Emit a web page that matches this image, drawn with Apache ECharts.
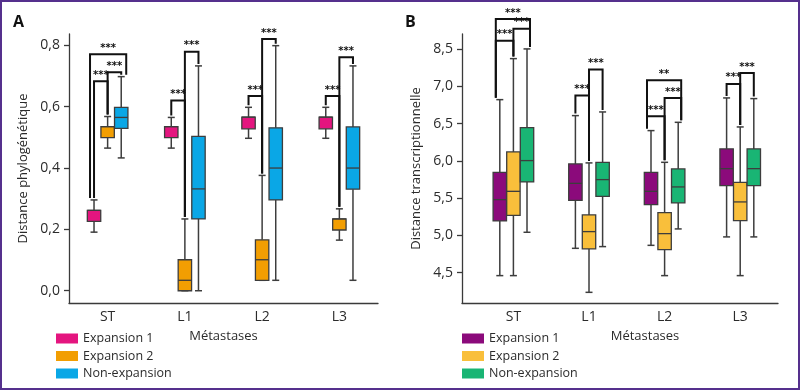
<!DOCTYPE html>
<html><head><meta charset="utf-8">
<script src="https://cdn.jsdelivr.net/npm/echarts@6/dist/echarts.min.js"></script>
<style>
html,body{margin:0;padding:0;background:#fff;}
#wrap{position:relative;width:800px;height:390px;}
#chart{width:800px;height:390px;}
#frame{position:absolute;left:0;top:0;width:800px;height:390px;box-sizing:border-box;border:2px solid #55308d;pointer-events:none;}
</style></head><body>
<div id="wrap"><div id="chart"></div><div id="frame"></div></div>
<script>
// ---------- data ----------
const categories = ['ST', 'L1', 'L2', 'L3'];
const seriesNames = ['Expansion 1', 'Expansion 2', 'Non-expansion'];

// Panel A – phylogenetic distance, each entry [min, Q1, median, Q3, max]
const phyloExpansion1 = [
  [0.191, 0.226, 0.262, 0.262, 0.296],
  [0.465, 0.499, 0.535, 0.535, 0.565],
  [0.497, 0.528, 0.566, 0.566, 0.598],
  [0.497, 0.528, 0.566, 0.566, 0.598]
];
const phyloExpansion2 = [
  [0.465, 0.499, 0.535, 0.535, 0.568],
  [0.000, 0.000, 0.034, 0.101, 0.234],
  [0.034, 0.034, 0.101, 0.166, 0.376],
  [0.165, 0.198, 0.234, 0.234, 0.267]
];
const phyloNonExpansion = [
  [0.433, 0.529, 0.565, 0.598, 0.698],
  [0.000, 0.234, 0.332, 0.503, 0.733],
  [0.034, 0.296, 0.400, 0.531, 0.799],
  [0.034, 0.331, 0.400, 0.534, 0.733]
];
// significance brackets: [category, fromSeries, toSeries, bracket height]
const phyloBrackets = [
  [0, 0, 1, 0.683], [0, 1, 2, 0.712], [0, 0, 2, 0.771],
  [1, 0, 1, 0.620], [1, 1, 2, 0.779],
  [2, 0, 1, 0.635], [2, 1, 2, 0.821],
  [3, 0, 1, 0.635], [3, 1, 2, 0.761]
];
const phyloBracketLabels = ['***', '***', '***', '***', '***', '***', '***', '***', '***'];
const phyloTicks = [0, 0.2, 0.4, 0.6, 0.8];
const phyloTickLabels = ['0,0', '0,2', '0,4', '0,6', '0,8'];

// Panel B – transcriptional distance
const transExpansion1 = [
  [4.461, 5.194, 5.480, 5.846, 6.820],
  [4.827, 5.471, 5.698, 5.958, 6.606],
  [4.867, 5.413, 5.591, 5.846, 6.405],
  [4.980, 5.668, 5.895, 6.160, 6.843]
];
const transExpansion2 = [
  [4.461, 5.269, 5.591, 6.119, 7.370],
  [4.237, 4.819, 5.051, 5.275, 5.972],
  [4.461, 4.810, 5.024, 5.306, 5.980],
  [4.461, 5.198, 5.449, 5.712, 6.454]
];
const transNonExpansion = [
  [5.042, 5.717, 6.003, 6.445, 7.500],
  [4.850, 5.524, 5.748, 5.980, 6.655],
  [5.087, 5.436, 5.650, 5.891, 6.516],
  [4.980, 5.668, 5.895, 6.160, 6.834]
];
const transBrackets = [
  [0, 0, 1, 7.611], [0, 1, 2, 7.772], [0, 0, 2, 7.902],
  [1, 0, 1, 6.874], [1, 1, 2, 7.223],
  [2, 0, 1, 6.597], [2, 1, 2, 6.843], [2, 0, 2, 7.079],
  [3, 0, 1, 7.031], [3, 1, 2, 7.178]
];
const transBracketLabels = ['***', '***', '***', '***', '***', '***', '***', '**', '***', '***'];
const transTicks = [4.5, 5.0, 5.5, 6.0, 6.5, 7.0, 7.5];
const transTickLabels = ['4,5', '5,0', '5,5', '6,0', '6,5', '7,0', '8,5'];

// ---------- styles ----------
const colorsA = ['#e4157f', '#f29e02', '#0aa7e6'];
const colorsB = ['#8b0a7b', '#f9bf3b', '#19b574'];
const FONT = 'Open Sans';
const TEXT = '#2b2b2b';
const AXIS = '#3a3a3a';
const STROKE = '#3d3d3d';
const BOX_STEP = 13.6, BOX_W = 13.4, CAP_W = 7;

function makeBoxSeries(g, sIdx, name, color, stats) {
  return {
    type: 'custom', name: name, xAxisIndex: g, yAxisIndex: g,
    itemStyle: { color: color },
    encode: { x: 0, y: [1, 2, 3, 4, 5] },
    data: stats.map(function (s, i) { return [i].concat(s); }),
    renderItem: function (params, api) {
      const cat = api.value(0);
      const mn = api.value(1), q1 = api.value(2), md = api.value(3), q3 = api.value(4), mx = api.value(5);
      const base = api.coord([cat, md]);
      const x = base[0] + (sIdx - 1) * BOX_STEP;
      const Y = function (v) { return api.coord([cat, v])[1]; };
      const ls = { stroke: STROKE, lineWidth: 1.5 };
      return { type: 'group', children: [
        { type: 'line', shape: { x1: x, y1: Y(q3), x2: x, y2: Y(mx) }, style: ls },
        { type: 'line', shape: { x1: x, y1: Y(q1), x2: x, y2: Y(mn) }, style: ls },
        { type: 'line', shape: { x1: x - CAP_W / 2, y1: Y(mx), x2: x + CAP_W / 2, y2: Y(mx) }, style: ls },
        { type: 'line', shape: { x1: x - CAP_W / 2, y1: Y(mn), x2: x + CAP_W / 2, y2: Y(mn) }, style: ls },
        { type: 'rect', shape: { x: x - BOX_W / 2, y: Y(q3), width: BOX_W, height: Y(q1) - Y(q3) },
          style: { fill: color, stroke: STROKE, lineWidth: 1.3 } },
        { type: 'line', shape: { x1: x - BOX_W / 2, y1: Y(md), x2: x + BOX_W / 2, y2: Y(md) },
          style: { stroke: STROKE, lineWidth: 1.3 } }
      ] };
    }
  };
}

function makeBracketSeries(g, brackets, labels, statsList, legMode) {
  return {
    type: 'custom', name: 'significance' + g, xAxisIndex: g, yAxisIndex: g,
    silent: true, z: 5,
    encode: { x: 0, y: 3 },
    data: brackets.map(function (b) { return b.slice(); }),
    renderItem: function (params, api) {
      const cat = api.value(0), from = api.value(1), to = api.value(2), top = api.value(3);
      const label = labels[params.dataIndex];
      const base = api.coord([cat, top]);
      const isOuter = from === 0 && to === 2;
      const hasOuter = brackets.some(function (b) { return b[0] === cat && b[1] === 0 && b[2] === 2; });
      function legX(s) {
        let off = 0;
        const apply = legMode === 'outer' ? isOuter : hasOuter;
        if (apply) {
          if (s === 0) off = -4;
          if (s === 2) off = legMode === 'outer' ? 5 : 3;
        }
        return base[0] + (s - 1) * BOX_STEP + off;
      }
      const xL = legX(from), xR = legX(to), yT = base[1];
      const yL = api.coord([cat, statsList[from][cat][4]])[1] - 2;
      const yR = api.coord([cat, statsList[to][cat][4]])[1] - 2;
      return { type: 'group', children: [
        { type: 'polyline', shape: { points: [[xL, yL], [xL, yT], [xR, yT], [xR, yR]] },
          style: { stroke: '#111', lineWidth: 2, fill: null, lineJoin: 'miter' } },
        { type: 'text', style: { x: (xL + xR) / 2, y: yT - 1, text: label, align: 'center', verticalAlign: 'bottom',
          font: 'bold 10px DejaVu Sans', fill: '#111' } }
      ] };
    }
  };
}

function xAxisCfg(g, min, nameShift) {
  return {
    type: 'value', gridIndex: g, min: min, max: 3.5,
    splitLine: { show: false },
    axisLine: { show: true, onZero: false, lineStyle: { color: AXIS, width: 1.3 } },
    axisTick: { show: false },
    axisLabel: { customValues: [0, 1, 2, 3], formatter: function (v) { return categories[Math.round(v)] || ''; },
      fontSize: 14, color: TEXT, fontFamily: FONT, margin: 7 },
    name: 'Métastases', nameLocation: 'middle', nameGap: 27,
    nameTextStyle: { fontSize: 13, color: TEXT, fontFamily: FONT, padding: [0, 0, 0, nameShift] }
  };
}
function yAxisCfg(g, min, max, ticks, tickLabels, name) {
  return {
    type: 'value', gridIndex: g, min: min, max: max,
    splitLine: { show: false },
    axisLine: { show: true, onZero: false, lineStyle: { color: AXIS, width: 1.3 } },
    axisTick: { show: true, length: 5, customValues: ticks, lineStyle: { color: AXIS, width: 1.3 } },
    axisLabel: { customValues: ticks, fontSize: 14, color: TEXT, fontFamily: FONT, margin: 9,
      formatter: function (v) {
        let best = 0;
        ticks.forEach(function (t, i) { if (Math.abs(t - v) < Math.abs(ticks[best] - v)) best = i; });
        return tickLabels[best];
      } },
    name: name, nameLocation: 'middle', nameGap: 39,
    nameTextStyle: { fontSize: 13, color: TEXT, fontFamily: FONT }
  };
}
function legendCfg(left, colors) {
  return {
    left: left, top: 332, height: 56, orient: 'vertical', icon: 'rect', itemWidth: 22, itemHeight: 10, itemGap: 4.5,
    padding: 0, selectedMode: false,
    textStyle: { fontSize: 12.5, color: TEXT, fontFamily: FONT, lineHeight: 11 },
    data: seriesNames.map(function (n, i) { return { name: n, itemStyle: { color: colors[i] } }; })
  };
}

const statsA = [phyloExpansion1, phyloExpansion2, phyloNonExpansion];
const statsB = [transExpansion1, transExpansion2, transNonExpansion];

const chart = echarts.init(document.getElementById('chart'), null, { renderer: 'canvas' });
chart.setOption({
  animation: false,
  textStyle: { fontFamily: FONT },
  grid: [
    { left: 69, top: 34, width: 309, height: 269 },
    { left: 462, top: 34, width: 316, height: 269 }
  ],
  xAxis: [xAxisCfg(0, -0.5, 0), xAxisCfg(1, -0.68, 50)],
  yAxis: [
    yAxisCfg(0, -0.04, 0.837, phyloTicks, phyloTickLabels, 'Distance phylogénétique'),
    yAxisCfg(1, 4.094, 7.70, transTicks, transTickLabels, 'Distance transcriptionnelle')
  ],
  legend: [legendCfg(56, colorsA), legendCfg(462, colorsB)],
  graphic: [
    { type: 'text', left: 13, top: 14, style: { text: 'A', font: 'bold 16px Open Sans', fill: '#111' } },
    { type: 'text', left: 405, top: 14, style: { text: 'B', font: 'bold 16px Open Sans', fill: '#111' } }
  ],
  series: [
    makeBoxSeries(0, 0, seriesNames[0], colorsA[0], phyloExpansion1),
    makeBoxSeries(0, 1, seriesNames[1], colorsA[1], phyloExpansion2),
    makeBoxSeries(0, 2, seriesNames[2], colorsA[2], phyloNonExpansion),
    makeBracketSeries(0, phyloBrackets, phyloBracketLabels, statsA, 'outer'),
    makeBoxSeries(1, 0, seriesNames[0], colorsB[0], transExpansion1),
    makeBoxSeries(1, 1, seriesNames[1], colorsB[1], transExpansion2),
    makeBoxSeries(1, 2, seriesNames[2], colorsB[2], transNonExpansion),
    makeBracketSeries(1, transBrackets, transBracketLabels, statsB, 'shared')
  ]
});
</script>
</body></html>
